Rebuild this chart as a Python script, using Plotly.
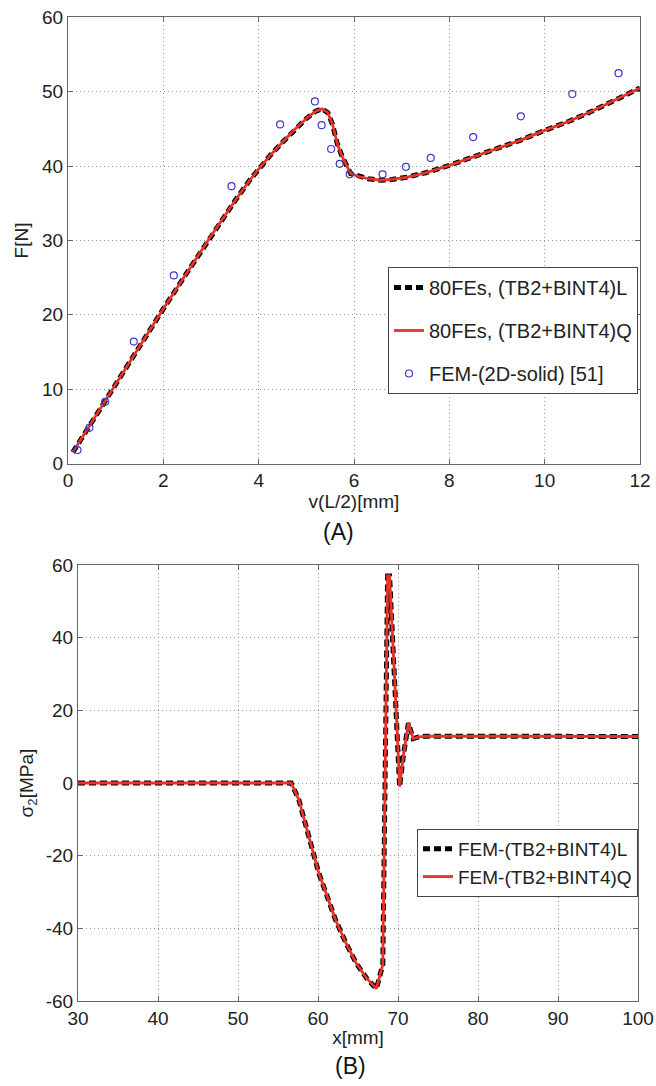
import plotly.graph_objects as go

# (A) load-displacement curves
v_curve = [0.1, 0.5, 1.0, 1.5, 2.0, 2.5, 3.0, 3.5, 3.8, 4.0, 4.25, 4.5, 4.75, 5.0, 5.2, 5.33,
           5.45, 5.55, 5.65, 5.75, 5.93, 6.1, 6.3, 6.55, 6.8, 7.1, 7.5, 8.0, 8.5, 9.0,
           9.5, 10.0, 10.5, 11.0, 11.5, 12.0]
f_linear = [1.5, 5.6, 10.7, 15.8, 20.8, 25.7, 30.6, 35.3, 38.0, 39.6, 41.5, 43.2, 44.9, 46.4, 47.4, 47.7,
            47.2, 45.6, 43.0, 41.3, 39.0, 38.6, 38.3, 38.1, 38.2, 38.5, 39.1, 40.1, 41.2, 42.3,
            43.5, 44.8, 46.0, 47.4, 48.9, 50.5]
f_quad = f_linear

# (A) reference 2D-solid FEM points
v_fem = [0.2, 0.45, 0.78, 1.38, 2.22, 3.43, 4.45, 5.18, 5.32, 5.52, 5.70, 5.91,
         6.60, 7.09, 7.61, 8.50, 9.50, 10.58, 11.55]
f_fem = [1.8, 4.8, 8.3, 16.4, 25.3, 37.3, 45.6, 48.7, 45.5, 42.3, 40.3, 38.9,
         38.9, 39.9, 41.1, 43.9, 46.7, 49.7, 52.5]

# (B) stress distribution
x_b = [30, 56.65, 57.6, 58.4, 59.3, 60.1, 61.0, 62.2, 63.5, 64.8, 66.1, 67.3, 68.1,
       68.3, 68.45, 68.7, 68.95, 69.6, 69.95, 70.2, 70.7, 71.3, 71.9, 72.5, 73.5, 100]
s_linear = [0, 0, -4.6, -11, -18.4, -24.8, -30.3, -37.7, -44.1, -49.7, -53.8, -56.6, -50.0,
            -12, 10, 57, 57, 30, 12, -1, 8, 16.5, 12.2, 12.6, 12.9, 12.8]
s_quad = s_linear

s_ticks = [-60, -40, -20, 0, 20, 40, 60]
s_ticklabels = ['-60', '-40', '-20', '0', '20', '40', '60']

RED = '#e6332a'
BLUE = '#3a3acc'
FONT = 'Arial, Liberation Sans, sans-serif'
W, H = 656, 1086

fig = go.Figure()

fig.add_trace(go.Scatter(x=v_curve, y=f_linear, mode='lines', name='80FEs, (TB2+BINT4)L',
                         line=dict(color='black', width=5, dash='7px,4px'),
                         legendgroup='a1', xaxis='x', yaxis='y'))
fig.add_trace(go.Scatter(x=v_curve, y=f_quad, mode='lines', name='80FEs, (TB2+BINT4)Q',
                         line=dict(color=RED, width=2.8),
                         legendgroup='a2', xaxis='x', yaxis='y'))
fig.add_trace(go.Scatter(x=v_fem, y=f_fem, mode='markers', name='FEM-(2D-solid) [51]',
                         marker=dict(symbol='circle-open', size=7, color=BLUE, line=dict(width=1.2)),
                         legendgroup='a3', xaxis='x', yaxis='y'))

fig.add_trace(go.Scatter(x=x_b, y=s_linear, mode='lines', name='FEM-(TB2+BINT4)L',
                         line=dict(color='black', width=5, dash='7px,4px'),
                         xaxis='x2', yaxis='y2', legend='legend2'))
fig.add_trace(go.Scatter(x=x_b, y=s_quad, mode='lines', name='FEM-(TB2+BINT4)Q',
                         line=dict(color=RED, width=2.8),
                         xaxis='x2', yaxis='y2', legend='legend2'))

axis_style = dict(showline=True, mirror='ticks', linecolor='#666', linewidth=1,
                  ticks='inside', ticklen=5, tickcolor='#666', automargin=False,
                  showgrid=True, gridcolor='#999', griddash='1px,3px', gridwidth=1,
                  zeroline=False, tickfont=dict(size=19, color='#222'),
                  title_font=dict(size=19, color='#222'))

fig.update_layout(
    width=W, height=H,
    margin=dict(l=0, r=0, t=0, b=0),
    paper_bgcolor='white', plot_bgcolor='white',
    font=dict(family=FONT, color='#222'),
    xaxis=dict(domain=[68 / W, 640 / W], range=[0, 12], dtick=2, anchor='y',
               title=dict(text='v(L/2)[mm]', standoff=0), **axis_style),
    yaxis=dict(domain=[1 - 463.5 / H, 1 - 17.4 / H], range=[0, 60], dtick=10, anchor='x',
               title=dict(text='F[N]', standoff=8), **axis_style),
    xaxis2=dict(domain=[78 / W, 638 / W], range=[30, 100], dtick=10, anchor='y2',
                title=dict(text='x[mm]', standoff=2), **axis_style),
    yaxis2=dict(domain=[1 - 1001 / H, 1 - 565 / H], range=[-60, 60], anchor='x2',
                tickvals=s_ticks, ticktext=s_ticklabels,
                title=dict(text='σ<sub>2</sub>[MPa]', standoff=7), **axis_style),
    legend=dict(x=638 / W, xanchor='right', y=1 - 267 / H, yanchor='top',
                bgcolor='white', bordercolor='#444', borderwidth=1,
                font=dict(size=20, color='#222'), itemwidth=30,
                traceorder='grouped', tracegroupgap=14),
    legend2=dict(x=638 / W, xanchor='right', y=1 - 829 / H, yanchor='top',
                 bgcolor='white', bordercolor='#444', borderwidth=1,
                 font=dict(size=19, color='#222'), itemwidth=30, tracegroupgap=0),
    annotations=[
        dict(text='(A)', x=338 / W, y=1 - 532 / H, xref='paper', yref='paper',
             xanchor='center', yanchor='middle',
             showarrow=False, font=dict(size=23, color='#111')),
        dict(text='(B)', x=350 / W, y=1 - 1066 / H, xref='paper', yref='paper',
             xanchor='center', yanchor='middle',
             showarrow=False, font=dict(size=23, color='#111')),
    ],
)

# the page body has a default 8px margin; drop it so the figure fills the window
fig.write_html("out.html", config={'displayModeBar': False},
               post_script="document.body.style.margin='0';")
